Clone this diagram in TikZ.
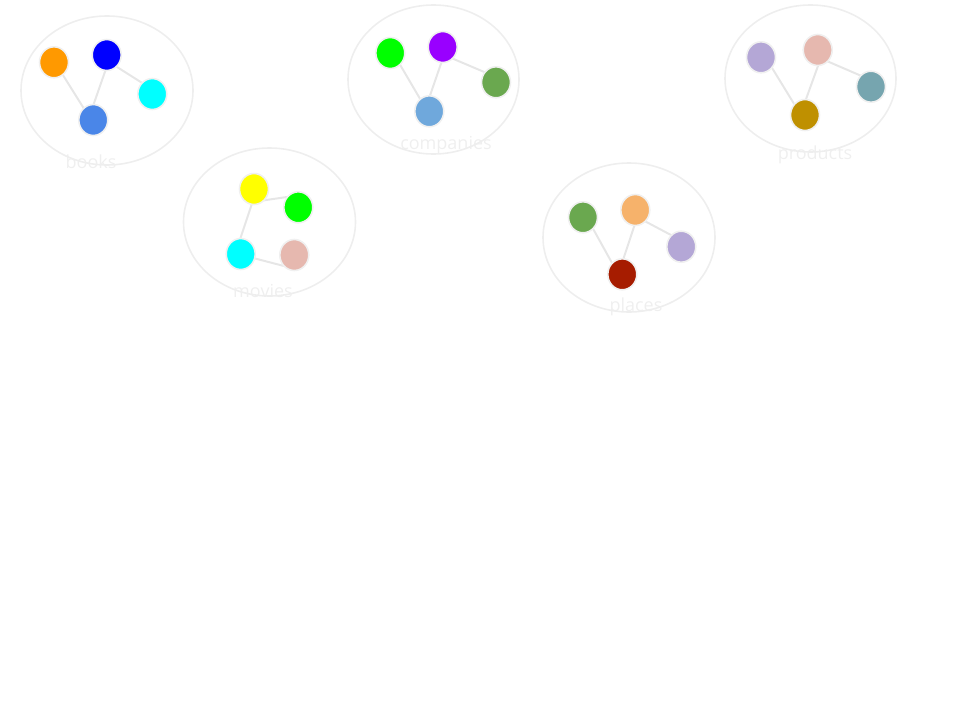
\documentclass[tikz,border=0pt]{standalone}
\usepackage{fontspec}
\setmainfont{Open Sans}
\usetikzlibrary{positioning, shapes.geometric, backgrounds}
\definecolor{GroupRim}{HTML}{EEEEEE}
\definecolor{LinkInk}{HTML}{E6E6E6}
\definecolor{TagInk}{HTML}{EFEFEF}
\definecolor{ItemRim}{HTML}{F0F0F0}
\definecolor{Orange}{HTML}{FF9900}
\definecolor{Blue}{HTML}{0000FF}
\definecolor{Cyan}{HTML}{00FFFF}
\definecolor{Cornflower}{HTML}{4A86E8}
\definecolor{Yellow}{HTML}{FFFF00}
\definecolor{Lime}{HTML}{00FF00}
\definecolor{Rose}{HTML}{E6B8AF}
\definecolor{Violet}{HTML}{9900FF}
\definecolor{Leaf}{HTML}{6AA84F}
\definecolor{Sky}{HTML}{6FA8DC}
\definecolor{Peach}{HTML}{F6B26B}
\definecolor{Lavender}{HTML}{B4A7D6}
\definecolor{Brick}{HTML}{A61C00}
\definecolor{Teal}{HTML}{76A5AF}
\definecolor{Gold}{HTML}{BF9000}

\begin{document}
\begin{tikzpicture}[
    x=1pt, y=-1pt,
    group/.style={draw=GroupRim, line width=1.6pt},
    item/.style={
      ellipse,
      minimum width=29pt,
      minimum height=31pt,
      inner sep=0pt,
      draw=ItemRim,
      line width=1.6pt,
    },
    link/.style={draw=LinkInk, line width=2pt},
    tag/.style={
      text=TagInk,
      font=\fontsize{18}{20}\selectfont,
    },
  ]
    \useasboundingbox (0,0) rectangle (960,720);

    % books
    \draw[group] (107,90.5) ellipse [x radius=86, y radius=74.5];
    \node[item, fill=Orange] (bk1) at (54,62.3) {};
    \node[item, fill=Blue] (bk2) at (106.7,55) {};
    \node[item, fill=Cyan] (bk3) at (152.3,94) {};
    \node[item, fill=Cornflower] (bk4) at (93.3,120) {};
    \node[tag] (bookstag) at (91,162) {books};

    % movies
    \draw[group] (269.5,222) ellipse [x radius=86, y radius=74];
    \node[item, fill=Yellow] (mv1) at (254,189) {};
    \node[item, fill=Lime] (mv2) at (298.3,207.3) {};
    \node[item, fill=Cyan] (mv3) at (240.7,254) {};
    \node[item, fill=Rose] (mv4) at (294.3,255) {};
    \node[tag] (moviestag) at (263,291) {movies};

    % companies
    \draw[group] (433.5,79.5) ellipse [x radius=85.5, y radius=74.5];
    \node[item, fill=Lime] (co1) at (390.3,53) {};
    \node[item, fill=Violet] (co2) at (442.7,47) {};
    \node[item, fill=Leaf] (co3) at (496,82.3) {};
    \node[item, fill=Sky] (co4) at (429.3,111.3) {};
    \node[tag] (companiestag) at (446,145) {companies};

    % places
    \draw[group] (629,237.5) ellipse [x radius=86, y radius=74.5];
    \node[item, fill=Leaf] (pl1) at (583,217.3) {};
    \node[item, fill=Peach] (pl2) at (635.3,210) {};
    \node[item, fill=Lavender] (pl3) at (681.3,246.7) {};
    \node[item, fill=Brick] (pl4) at (622.3,274.3) {};
    \node[tag] (placestag) at (636,307) {places};

    % products
    \draw[group] (810.5,78.5) ellipse [x radius=85.5, y radius=73.5];
    \node[item, fill=Lavender] (pr1) at (761,57.3) {};
    \node[item, fill=Rose] (pr2) at (817.7,50) {};
    \node[item, fill=Teal] (pr3) at (871,86.7) {};
    \node[item, fill=Gold] (pr4) at (805,115) {};
    \node[tag] (productstag) at (815,155) {products};

    % links sit under the dots, ends a little off centre
    \begin{scope}[on background layer]
      \draw[link] ([shift={(0.7,-0.4)}]bk1.center) -- ([shift={(-4.1,-3)}]bk4.center);
      \draw[link] ([shift={(1.8,6.6)}]bk2.center) -- ([shift={(-4.1,-3)}]bk4.center);
      \draw[link] ([shift={(1.8,6.6)}]bk2.center) -- ([shift={(2.1,-3.3)}]bk3.center);

      \draw[link] ([shift={(-1.5,13)}]mv1.center) -- ([shift={(-1.7,-11.7)}]mv2.center);
      \draw[link] ([shift={(-1.5,13)}]mv1.center) -- ([shift={(-5.3,-0.6)}]mv3.center);
      \draw[link] ([shift={(-5.3,-0.6)}]mv3.center) -- ([shift={(-3.4,12.8)}]mv4.center);

      \draw[link] ([shift={(2.1,-1.3)}]co1.center) -- ([shift={(-3.7,-3)}]co4.center);
      \draw[link] ([shift={(1.3,7.9)}]co2.center) -- ([shift={(-3.7,-3)}]co4.center);
      \draw[link] ([shift={(1.3,7.9)}]co2.center) -- ([shift={(1.8,-4.5)}]co3.center);

      \draw[link] ([shift={(2.8,-1.6)}]pl1.center) -- ([shift={(-4,0)}]pl4.center);
      \draw[link] ([shift={(1.9,7.1)}]pl2.center) -- ([shift={(-4,0)}]pl4.center);
      \draw[link] ([shift={(1.9,7.1)}]pl2.center) -- ([shift={(2.5,-4.9)}]pl3.center);

      \draw[link] ([shift={(3.3,-2)}]pr1.center) -- ([shift={(-4.5,-0.6)}]pr4.center);
      \draw[link] ([shift={(3,8.4)}]pr2.center) -- ([shift={(-4.5,-0.6)}]pr4.center);
      \draw[link] ([shift={(3,8.4)}]pr2.center) -- ([shift={(2.4,-5.6)}]pr3.center);
    \end{scope}
  \end{tikzpicture}
\end{document}
